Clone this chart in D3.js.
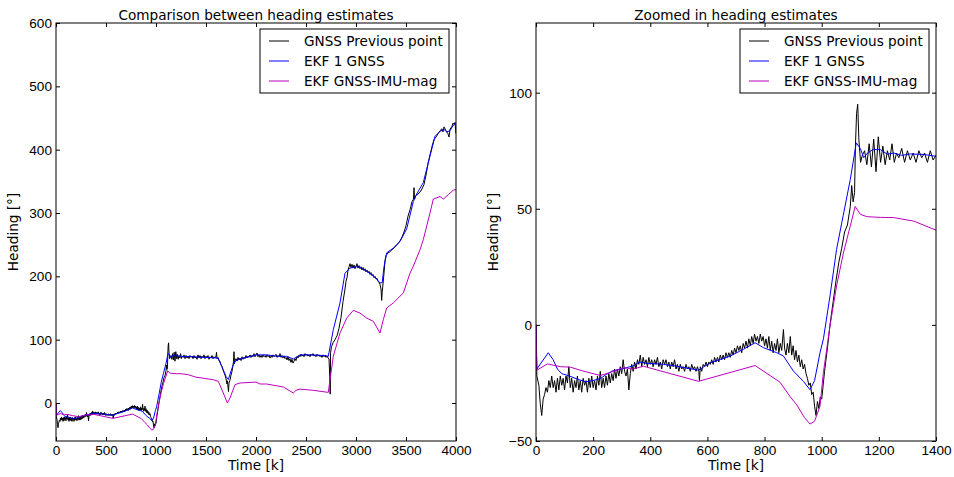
<!DOCTYPE html>
<html>
<head>
<meta charset="utf-8">
<script src="https://cdn.jsdelivr.net/npm/d3@7"></script>
<style>
  body { margin: 0; background: #fff; }
  svg { display: block; font-family: "DejaVu Sans", sans-serif; }
  .axis text { font-size: 13.6px; fill: #000; }
  .axis path { display: none; }
  .axis line { stroke: #000; }
</style>
</head>
<body>
<div id="chart"></div>
<script>
// tick labels
const leftXTicks = [0, 500, 1000, 1500, 2000, 2500, 3000, 3500, 4000];
const leftYTicks = [0, 100, 200, 300, 400, 500, 600];
const rightXTicks = [0, 200, 400, 600, 800, 1000, 1200, 1400];
const rightYTicks = [-50, 0, 50, 100];

const seriesNames = ["GNSS Previous point", "EKF 1 GNSS", "EKF GNSS-IMU-mag"];

// heading from previous GNSS point [time, deg]
const gnssPrev = [
  [0, 0], [3, -22], [10, -26], [15, -34], [20, -39], [25, -32], [30, -30], [35, -27],
  [40, -29], [45, -24], [50, -27], [55, -22], [60, -27], [65, -24], [70, -29], [75, -23],
  [80, -28], [85, -22], [90, -26], [95, -23], [100, -28], [105, -22], [110, -25], [115, -18],
  [120, -27], [125, -23], [130, -29], [135, -24], [140, -27], [145, -22], [150, -28], [155, -24],
  [160, -29], [165, -23], [170, -26], [175, -24], [180, -29], [185, -23], [190, -27], [195, -22],
  [200, -27], [205, -24], [210, -28], [215, -22], [220, -26], [225, -20], [230, -27], [235, -23],
  [240, -27], [245, -22], [250, -26], [255, -21], [260, -25], [265, -21], [270, -24], [275, -19],
  [280, -23], [285, -19], [290, -22], [295, -18], [300, -21], [305, -15], [310, -20], [315, -22],
  [320, -19], [325, -28], [330, -21], [335, -17], [340, -20], [345, -16], [350, -19], [355, -15],
  [360, -17], [365, -13], [370, -18], [375, -14], [380, -17], [385, -15], [390, -18], [395, -14],
  [400, -17], [405, -15], [410, -18], [415, -15], [420, -17], [425, -14], [430, -18], [435, -16],
  [440, -19], [445, -15], [450, -17], [455, -15], [460, -18], [465, -16], [470, -19], [475, -16],
  [480, -18], [485, -15], [490, -19], [495, -17], [500, -20], [505, -17], [510, -19], [515, -18],
  [520, -20], [525, -17], [530, -19], [535, -18], [540, -20], [545, -17], [550, -19], [555, -18],
  [560, -20], [565, -18], [570, -20], [572, -24], [575, -18], [580, -20], [585, -17], [590, -18],
  [595, -16], [600, -18], [605, -16], [610, -17], [615, -15], [620, -17], [625, -14], [630, -16],
  [635, -14], [640, -16], [645, -13], [650, -15], [655, -13], [660, -15], [665, -12], [670, -14],
  [675, -12], [680, -14], [685, -11], [690, -13], [695, -10], [700, -12], [705, -9], [710, -11],
  [715, -9], [720, -12], [725, -8], [730, -10], [735, -7], [740, -10], [745, -6], [750, -9],
  [755, -5], [760, -8], [765, -4], [770, -7], [775, -5], [780, -8], [785, -4], [790, -7],
  [795, -5], [800, -9], [805, -6], [810, -10], [815, -5], [820, -11], [825, -7], [830, -12],
  [835, -8], [840, -11], [845, -6], [850, -12], [855, -8], [860, -11], [866, -2], [870, -10],
  [875, -13], [880, -8], [885, -12], [890, -5], [895, -13], [900, -9], [905, -15], [910, -11],
  [915, -16], [920, -13], [925, -18], [930, -15], [935, -19], [940, -17], [945, -21], [950, -23],
  [955, -26], [960, -25], [965, -30], [970, -29], [975, -35], [980, -39], [985, -33], [990, -36],
  [995, -31], [1000, -32],
  [1010, -20], [1020, -10], [1030, 1], [1040, 10], [1050, 19], [1060, 27], [1070, 33], [1080, 40],
  [1090, 43], [1100, 51], [1105, 60], [1110, 53], [1115, 57], [1118, 77], [1122, 91], [1126, 95],
  [1130, 80], [1136, 70], [1142, 73], [1150, 75], [1158, 69], [1166, 78], [1174, 68], [1182, 80],
  [1190, 66], [1198, 81], [1206, 70], [1214, 77], [1222, 69], [1230, 75], [1238, 71], [1246, 78],
  [1254, 70], [1262, 74], [1270, 72], [1280, 76], [1290, 70], [1300, 75], [1310, 71], [1320, 74],
  [1330, 70], [1340, 75], [1350, 72], [1360, 74], [1370, 70], [1380, 75], [1390, 71], [1400, 73],
  [1410, 69], [1420, 76], [1430, 71], [1440, 75], [1450, 70], [1460, 74], [1470, 72], [1480, 76],
  [1490, 70], [1500, 74], [1510, 71], [1520, 75], [1530, 69], [1540, 73], [1550, 71], [1560, 75],
  [1570, 70], [1580, 73], [1590, 71], [1600, 74], [1605, 80], [1610, 70], [1620, 72], [1630, 67],
  [1640, 66], [1650, 60], [1660, 58], [1670, 52], [1680, 48], [1690, 44], [1700, 38], [1710, 30],
  [1715, 35], [1720, 25], [1725, 18], [1730, 32], [1740, 36], [1750, 44], [1760, 50], [1770, 60],
  [1775, 66], [1780, 81], [1785, 62], [1790, 67], [1800, 70], [1810, 66], [1820, 72], [1830, 68],
  [1840, 71], [1850, 67], [1860, 73], [1870, 69], [1880, 72], [1890, 70], [1900, 75], [1910, 71],
  [1920, 74], [1930, 72], [1940, 76], [1950, 72], [1960, 75], [1970, 73], [1980, 78], [1990, 73],
  [2000, 76], [2010, 79], [2020, 73], [2030, 76], [2040, 72], [2050, 75], [2060, 72], [2070, 76],
  [2080, 73], [2090, 75], [2100, 72], [2110, 76], [2120, 73], [2130, 75], [2140, 71], [2150, 74],
  [2160, 72], [2170, 76], [2180, 73], [2190, 75], [2200, 77], [2210, 72], [2220, 75], [2230, 73],
  [2240, 78], [2250, 72], [2260, 75], [2270, 71], [2280, 74], [2290, 70], [2300, 72], [2310, 68],
  [2320, 73], [2330, 67], [2340, 70], [2350, 64], [2360, 69], [2370, 63], [2380, 66], [2390, 70],
  [2400, 67], [2410, 73], [2420, 71], [2430, 75], [2440, 73], [2450, 77], [2460, 74], [2470, 76],
  [2480, 73], [2490, 78], [2500, 75], [2510, 77], [2520, 74], [2530, 76], [2540, 73], [2550, 77],
  [2560, 75], [2570, 78], [2580, 74], [2590, 76], [2600, 73], [2610, 77], [2620, 74], [2630, 76],
  [2640, 73], [2650, 75], [2660, 72], [2670, 76], [2680, 73], [2690, 75], [2700, 72], [2710, 74],
  [2720, 71], [2730, 70], [2738, 40], [2742, 14], [2746, 80], [2755, 89], [2770, 95],
  [2790, 100], [2810, 106], [2830, 118], [2850, 135], [2870, 160], [2890, 180], [2900, 192],
  [2910, 198], [2920, 210], [2930, 215], [2940, 220], [2950, 214], [2960, 219], [2970, 213],
  [2980, 218], [2990, 212], [3000, 216], [3010, 220], [3020, 213], [3030, 217], [3040, 212],
  [3050, 215], [3060, 210], [3070, 214], [3080, 209], [3090, 212], [3100, 207], [3110, 210],
  [3120, 206], [3130, 208], [3140, 203], [3150, 206], [3160, 201], [3170, 203], [3180, 198],
  [3190, 200], [3200, 196], [3210, 197], [3220, 192], [3230, 191], [3240, 187], [3250, 180],
  [3257, 162], [3262, 175], [3270, 188], [3280, 205],
  [3290, 225], [3300, 233], [3320, 237], [3340, 239], [3360, 242], [3380, 245], [3400, 248],
  [3420, 252], [3440, 256], [3460, 262], [3480, 270], [3500, 280], [3520, 295], [3540, 305],
  [3560, 318], [3575, 322], [3580, 340], [3585, 322], [3600, 328], [3620, 330], [3640, 333],
  [3660, 338], [3680, 345], [3700, 360], [3720, 378], [3740, 392], [3760, 405], [3780, 416],
  [3800, 420], [3820, 425], [3840, 430], [3860, 433], [3870, 428], [3880, 436], [3900, 430],
  [3920, 425], [3930, 420], [3940, 432], [3960, 437], [3970, 442], [3980, 440], [3990, 443],
  [4000, 425]
];

// EKF with one GNSS
const ekfGnss = [
  [0, 0], [3, -19], [20, -16], [43, -12], [60, -15], [75, -19], [90, -21], [117, -22],
  [150, -23.6], [175, -24.5], [205, -23.8], [227, -23], [245, -21.4], [268, -19.8], [303, -18.9],
  [338, -17.7], [362, -16], [385, -16.5], [420, -16.8], [446, -17], [493, -17.8], [569, -19.5],
  [610, -16.3], [680, -13.4], [726, -10.5], [767, -7.7], [796, -9.8], [843, -12], [866, -13.4],
  [901, -19.9], [936, -24.3], [959, -27.9], [975, -24], [994, -12], [1006, -6], [1029, 12.5],
  [1052, 32.5], [1075, 47], [1100, 62.6], [1121, 78.4], [1135, 76], [1147, 72], [1160, 74],
  [1180, 75.5], [1205, 75.5], [1230, 73.5], [1252, 74], [1280, 73], [1310, 73.6], [1357, 73.4],
  [1400, 72.6], [1500, 72], [1620, 71], [1660, 57], [1700, 42], [1723, 37], [1760, 55],
  [1790, 66], [1840, 69.5], [1900, 72], [1950, 74], [2000, 76], [2107, 76], [2200, 74],
  [2307, 73.7], [2373, 69.5], [2400, 72], [2440, 76], [2550, 76], [2707, 74.7], [2723, 73.7],
  [2773, 115.8], [2840, 158], [2890, 205], [2940, 213], [3000, 215], [3040, 214.7], [3107, 208],
  [3180, 200], [3240, 189.5], [3262, 190], [3280, 215], [3307, 237], [3373, 244.7], [3440, 255],
  [3507, 275], [3573, 318], [3607, 330], [3673, 348], [3740, 390], [3790, 421], [3840, 429],
  [3880, 432], [3907, 428], [3940, 430], [3970, 438], [4000, 442]
];

// EKF with GNSS, IMU and magnetometer
const ekfImuMag = [
  [0, 0], [3, -19.5], [40, -16.8], [85, -18], [120, -18.2], [163, -19.8], [225, -21.8],
  [260, -20.5], [306, -18.4], [341, -19], [376, -17.8], [569, -24.3], [767, -17.5], [854, -24.7],
  [890, -31], [913, -34.5], [940, -40], [959, -42.7], [975, -41.5], [994, -35], [1006, -20.4],
  [1029, -0.4], [1052, 16.8], [1076, 31], [1100, 42.6], [1117, 51], [1135, 47.6], [1158, 46.6],
  [1205, 46.3], [1252, 46.2], [1322, 44.7], [1400, 40.8], [1573, 36.8], [1623, 34.2],
  [1673, 15.8], [1713, 0], [1740, 7.9], [1790, 29], [1840, 31.6], [2000, 33], [2040, 30],
  [2107, 30], [2140, 29], [2273, 25.3], [2373, 15.8], [2400, 20], [2440, 22], [2573, 20],
  [2723, 16.8], [2740, 36.8], [2773, 73.7], [2840, 110.5], [2907, 134], [2973, 146.3],
  [3040, 142], [3107, 134], [3173, 129], [3240, 110.5], [3273, 131.6], [3307, 150], [3373, 158],
  [3473, 173.7], [3540, 205], [3573, 216], [3640, 242], [3673, 258], [3740, 300], [3773, 322],
  [3840, 326], [3873, 322], [3923, 329], [3973, 336], [4000, 337]
];

const width = 954, height = 477;
const plotTop = 23, plotBottom = 441;
const fontSize = 13.6;
const colors = ["#000000", "#0000ff", "#bf00bf"];
const allSeries = [gnssPrev, ekfGnss, ekfImuMag];

const svg = d3.select("#chart").append("svg")
  .attr("width", width)
  .attr("height", height);

const panels = [
  {title: "Comparison between heading estimates", left: 56, right: 456,
   xDomain: [0, 4000], yDomain: [-60, 600], xTicks: leftXTicks, yTicks: leftYTicks, id: "a"},
  {title: "Zoomed in heading estimates", left: 536, right: 936,
   xDomain: [0, 1400], yDomain: [-50, 130], xTicks: rightXTicks, yTicks: rightYTicks, id: "b"}
];

panels.forEach(p => {
  const x = d3.scaleLinear().domain(p.xDomain).range([p.left, p.right]);
  const y = d3.scaleLinear().domain(p.yDomain).range([plotBottom, plotTop]);

  svg.append("clipPath").attr("id", "clip-" + p.id)
    .append("rect")
    .attr("x", p.left).attr("y", plotTop)
    .attr("width", p.right - p.left).attr("height", plotBottom - plotTop);

  const line = d3.line().x(d => x(d[0])).y(d => y(d[1]));

  const g = svg.append("g").attr("clip-path", `url(#clip-${p.id})`);
  allSeries.forEach((s, i) => {
    g.append("path")
      .datum(s)
      .attr("fill", "none")
      .attr("stroke", colors[i])
      .attr("stroke-width", 1)
      .attr("d", line);
  });

  // axes, ticks pointing inward like matplotlib classic
  svg.append("g").attr("class", "axis")
    .attr("transform", `translate(0,${plotBottom})`)
    .call(d3.axisBottom(x).tickValues(p.xTicks).tickFormat(d3.format("d"))
      .tickSizeInner(-4).tickSizeOuter(0).tickPadding(4));
  svg.append("g").attr("class", "axis")
    .attr("transform", `translate(0,${plotTop})`)
    .call(d3.axisTop(x).tickValues(p.xTicks).tickFormat("")
      .tickSizeInner(-4).tickSizeOuter(0));
  svg.append("g").attr("class", "axis")
    .attr("transform", `translate(${p.left},0)`)
    .call(d3.axisLeft(y).tickValues(p.yTicks).tickFormat(d3.format("d"))
      .tickSizeInner(-4).tickSizeOuter(0).tickPadding(4));
  svg.append("g").attr("class", "axis")
    .attr("transform", `translate(${p.right},0)`)
    .call(d3.axisRight(y).tickValues(p.yTicks).tickFormat("")
      .tickSizeInner(-4).tickSizeOuter(0));

  // frame
  svg.append("rect")
    .attr("x", p.left).attr("y", plotTop)
    .attr("width", p.right - p.left).attr("height", plotBottom - plotTop)
    .attr("fill", "none").attr("stroke", "#000").attr("stroke-width", 1);

  svg.append("text")
    .attr("x", (p.left + p.right) / 2).attr("y", 20)
    .attr("text-anchor", "middle").attr("font-size", fontSize)
    .text(p.title);

  svg.append("text")
    .attr("x", (p.left + p.right) / 2).attr("y", 470)
    .attr("text-anchor", "middle").attr("font-size", fontSize)
    .text("Time [k]");

  svg.append("text")
    .attr("transform", `translate(${p.left - 38},${(plotTop + plotBottom) / 2}) rotate(-90)`)
    .attr("text-anchor", "middle").attr("font-size", fontSize)
    .text("Heading [°]");

  // legend
  const lw = 189, lh = 64;
  const lx = p.right - 7 - lw, ly = plotTop + 6;
  const leg = svg.append("g").attr("transform", `translate(${lx},${ly})`);
  leg.append("rect").attr("width", lw).attr("height", lh)
    .attr("fill", "#fff").attr("stroke", "#000").attr("stroke-width", 1);
  seriesNames.forEach((name, i) => {
    const ry = 12 + i * 20;
    leg.append("line")
      .attr("x1", 9).attr("x2", 29).attr("y1", ry).attr("y2", ry)
      .attr("stroke", colors[i]).attr("stroke-width", 1);
    leg.append("text")
      .attr("x", 44).attr("y", ry + 4.8)
      .attr("font-size", fontSize)
      .text(name);
  });
});
</script>
</body>
</html>
